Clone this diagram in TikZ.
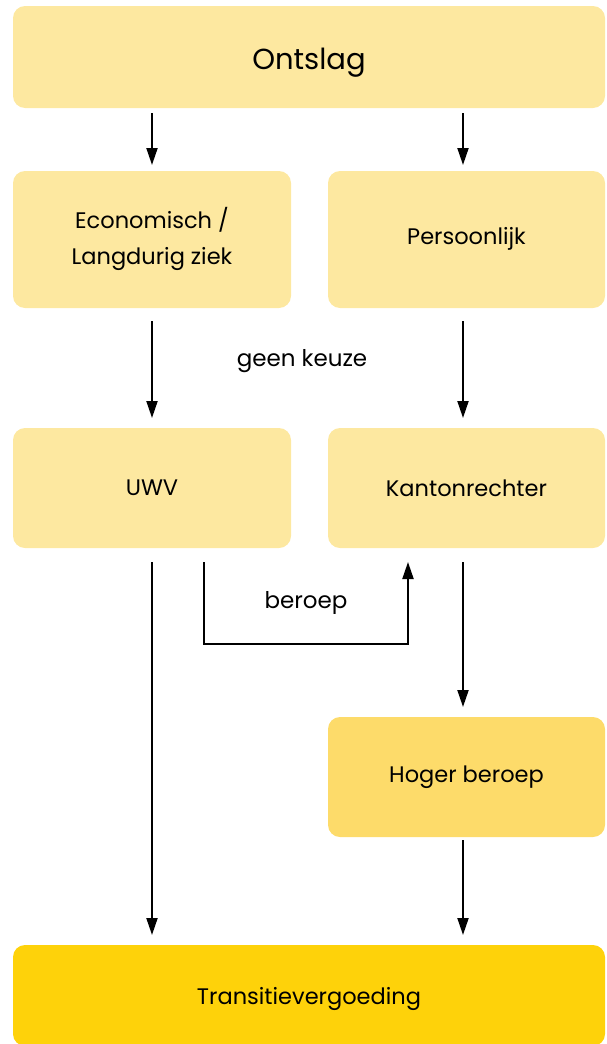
\documentclass[tikz,border=0pt]{standalone}
\usepackage{fontspec}
\setmainfont{Poppins}
\usetikzlibrary{arrows.meta,calc}
\definecolor{pale}{RGB}{253,232,160}
\definecolor{mid}{RGB}{253,219,106}
\definecolor{gold}{RGB}{254,210,10}
\tikzset{
  x=1pt,y=-1pt,
  box/.style={rounded corners=12pt, inner sep=0pt, font=\fontsize{22.5}{36}\selectfont, align=center},
  arr/.style={line width=2pt, -{Triangle[width=11pt,length=17pt]}},
  lbl/.style={font=\fontsize{23}{28}\selectfont}
}
\begin{document}
\begin{tikzpicture}
\useasboundingbox (0,0) rectangle (606,1044);
\fill[pale, rounded corners=12pt] (13,6) rectangle (605,108);
\node[font=\fontsize{29}{36}\selectfont] (ontslag) at (309,63) {Ontslag};
\fill[pale, rounded corners=12pt] (13,171) rectangle (291,308);
\node[box] (econ) at (152,239) {Economisch /\\Langdurig ziek};
\fill[pale, rounded corners=12pt] (328,171) rectangle (605,308);
\node[box] (pers) at (466.5,239) {Persoonlijk};
\fill[pale, rounded corners=12pt] (13,428) rectangle (291,548);
\node[box] (uwv) at (152,488) {UWV};
\fill[pale, rounded corners=12pt] (328,428) rectangle (605,548);
\node[box] (kanton) at (466.5,488) {Kantonrechter};
\fill[mid, rounded corners=12pt] (328,717) rectangle (605,837);
\node[box] (hoger) at (466.5,777) {Hoger beroep};
\fill[gold, rounded corners=12pt] (13,945) rectangle (605,1046);
\node[box] (trans) at (309,999) {Transitievergoeding};
\node[lbl] (geen) at (302,361) {geen keuze};
\node[lbl] (ber) at (306,603) {beroep};
% connectors
\coordinate (a1) at (152,113); \coordinate (a2) at (152,165);
\coordinate (b1) at (463,113); \coordinate (b2) at (463,165);
\draw[arr] (a1 -| econ) -- (a2 -| econ);
\draw[arr] (b1) -- (b2);
\coordinate (c1) at (152,321); \coordinate (c2) at (152,418);
\coordinate (d1) at (463,321); \coordinate (d2) at (463,418);
\draw[arr] (c1 -| econ) -- (c2 -| uwv);
\draw[arr] (d1) -- (d2);
\coordinate (e1) at (152,562); \coordinate (e2) at (152,935);
\draw[arr] (e1 -| uwv) -- (e2 -| uwv);
\coordinate (f1) at (204,562); \coordinate (f2) at (204,644);
\coordinate (f3) at (408,644); \coordinate (f4) at (408,562);
\draw[arr] (f1) -- (f2) -- (f3) -- (f4);
\coordinate (g1) at (463,562); \coordinate (g2) at (463,707);
\draw[arr] (g1) -- (g2);
\coordinate (h1) at (463,840); \coordinate (h2) at (463,935);
\draw[arr] (h1) -- (h2);
\end{tikzpicture}
\end{document}
